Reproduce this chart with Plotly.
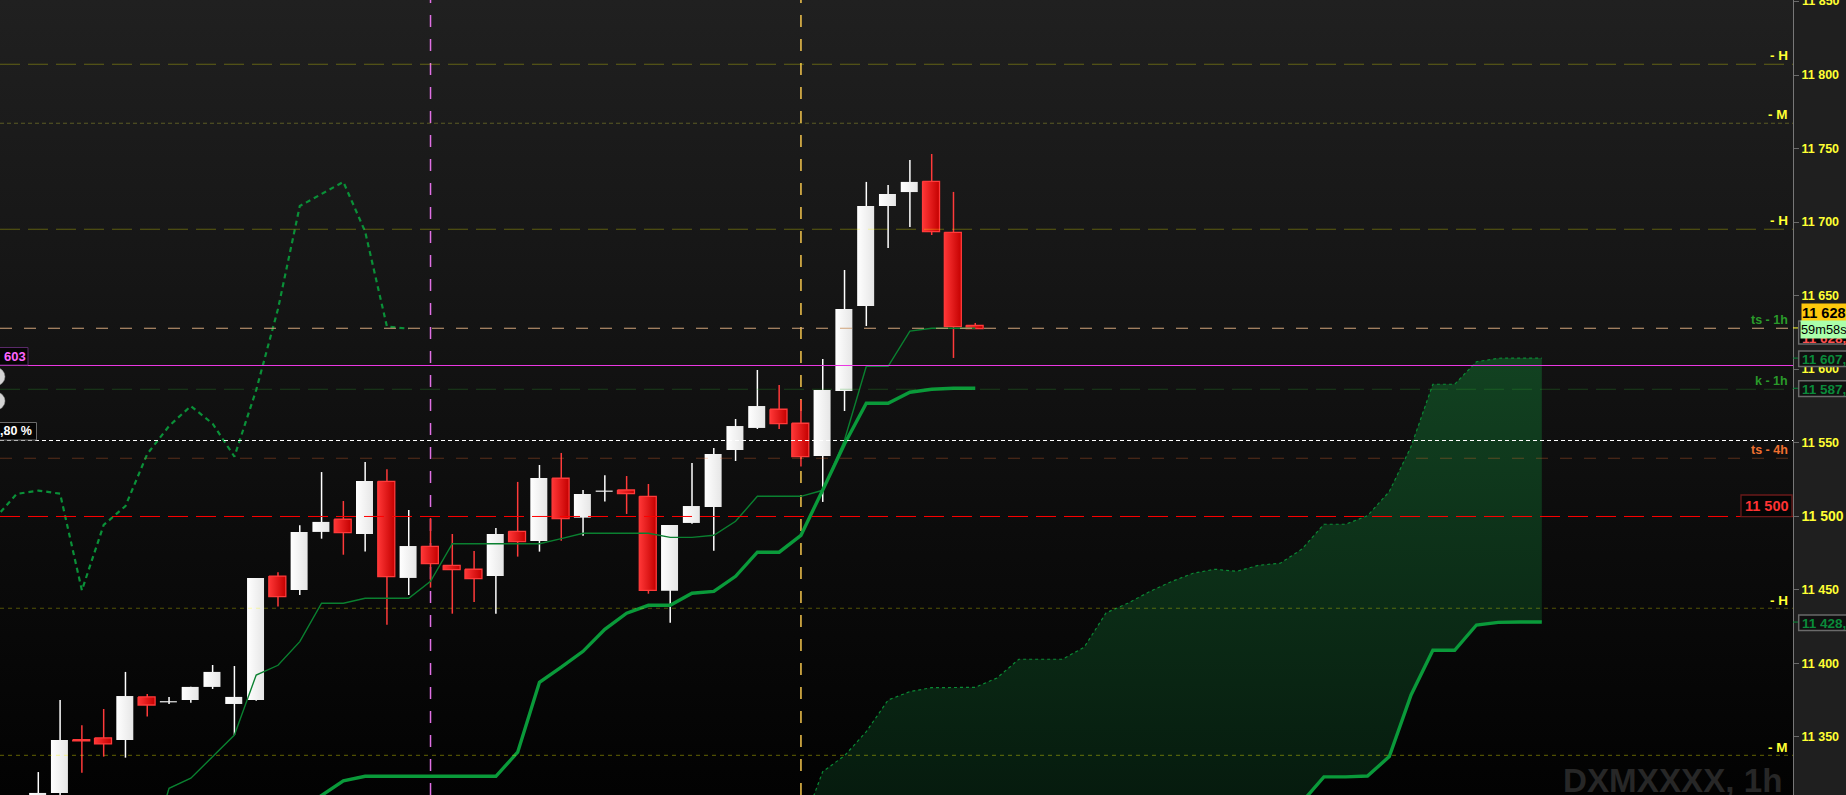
import plotly.graph_objects as go

# ---------- data (prices) ----------
opens = [11308, 11311.8, 11348, 11349.2, 11347.8, 11377.1, 11373.4, 11375, 11383.9, 11372.3, 11375,
         11459.3, 11449.8, 11489.3, 11497.9, 11487.9, 11523.7, 11458, 11479.5, 11466.6, 11463.9, 11459.3,
         11489.7, 11483.1, 11525.8, 11499, 11516.6, 11517.8, 11513.5, 11449.3, 11495.4, 11506.3, 11545,
         11560, 11572.7, 11563.2, 11540.9, 11585.1, 11642.9, 11710.9, 11720.4, 11727.7, 11693, 11629.8]
highs = [11326, 11375, 11357.8, 11368.9, 11394.1, 11379.1, 11377, 11384, 11398.8, 11398.1, 11458,
         11461.9, 11493.8, 11530, 11510.3, 11536.9, 11531.9, 11504.2, 11498.8, 11487.9, 11476.3, 11492,
         11523.3, 11534.8, 11543, 11517.8, 11527.8, 11527.3, 11521.9, 11494, 11536.2, 11546.4, 11566.1,
         11599.4, 11589.2, 11579, 11606.9, 11667.4, 11727.3, 11725.2, 11742.2, 11746.3, 11720.5, 11631.4]
lows = [11300, 11305, 11325.6, 11336.5, 11335.8, 11363.7, 11372.3, 11373.2, 11382.5, 11351.2, 11374.5,
        11438.5, 11446.4, 11484.7, 11473.8, 11475.9, 11426.2, 11446.4, 11451.4, 11433.7, 11441.7, 11433.7,
        11472.5, 11475.9, 11483.3, 11486.7, 11509.9, 11501.5, 11447.3, 11427.6, 11494.9, 11476.5, 11537.5,
        11559.3, 11559.3, 11533.7, 11509.7, 11571.5, 11629.3, 11682.4, 11696.7, 11691.2, 11607.6, 11627.5]
closes = [11311.8, 11347.8, 11347.2, 11345.1, 11377.7, 11371.6, 11374.2, 11383.9, 11394.1, 11377.1, 11458,
          11445.3, 11489.3, 11496.1, 11488.8, 11523.9, 11458.9, 11479.7, 11467.7, 11463.6, 11457.5, 11487.9,
          11482.7, 11526, 11498.3, 11515.1, 11517.4, 11515.3, 11449.6, 11494, 11506.9, 11542.3, 11561.3,
          11574.9, 11562.9, 11540.5, 11585.8, 11640.9, 11710.9, 11719.1, 11727.3, 11693.5, 11628.9, 11627.5]

tenkan_start = 5
tenkan = [11265, 11315, 11321.8, 11336.5, 11351.2, 11392, 11398.6, 11414.7, 11440.8, 11440.8, 11444.2,
          11444.2, 11444.2, 11455.7, 11481.3, 11481.3, 11481.3, 11481.3, 11481.3, 11484.7, 11488.4, 11488.4,
          11488.4, 11488.4, 11485.6, 11485.6, 11487, 11496.5, 11513.5, 11513.5, 11513.5, 11517.6, 11551.8,
          11601.9, 11601.9, 11625.9, 11627.8, 11627.8, 11627.8]
kijun_start = 12
kijun = [11300.2, 11310.4, 11320, 11323.1, 11323.1, 11323.1, 11323.1, 11323.1, 11323.1, 11323.1, 11339.5,
         11387, 11397.3, 11408.1, 11423.1, 11434, 11439.4, 11439.4, 11447.6, 11448.9, 11459.1, 11475.5,
         11475.5, 11487, 11517.8, 11549.1, 11576.8, 11576.8, 11584.3, 11586.3, 11587, 11587]
chikou_start = -2
chikou = [11498.3, 11515.1, 11517.4, 11515.3, 11449.6, 11494, 11506.9, 11542.3, 11561.3, 11574.9, 11562.9,
          11540.5, 11585.8, 11640.9, 11710.9, 11719.1, 11727.3, 11693.5, 11628.9, 11627.5]
cloud_start = 35
senkou_a = [11286.6, 11326.3, 11337.1, 11353.5, 11375, 11380.7, 11383.4, 11383.4, 11383.6, 11390, 11402.7,
            11402.7, 11402.7, 11410.9, 11434.2, 11440.8, 11448.7, 11455.5, 11461.2, 11463.9, 11462.5, 11466.6,
            11468, 11477.7, 11494.5, 11494.5, 11500.3, 11516.7, 11547.3, 11589.7, 11589.7, 11605, 11607.4,
            11607.5, 11607.5]
senkou_b = [11290, 11290, 11290, 11290, 11290, 11290, 11290, 11290, 11290, 11290, 11290, 11290, 11290, 11290,
            11290, 11290, 11290, 11290, 11290, 11290, 11290, 11290, 11290, 11305.7, 11322.7, 11322.7, 11323.3,
            11336.5, 11378.4, 11408.8, 11408.8, 11426, 11427.8, 11428, 11428]

tick_values = [11350, 11400, 11450, 11500, 11550, 11600, 11650, 11700, 11750, 11800, 11850]
tick_labels = ["11 350", "11 400", "11 450", '<span style="font-size:14px">11 500</span>', "11 550", "11 600",
               "11 650", "11 700", "11 750", "11 800", "11 850"]

level_names = ["- H", "- M", "- H", "ts - 1h", "k - 1h", "ts - 4h", "- H", "- M"]
level_values = [11807.3, 11767.2, 11695.1, 11627.8, 11586.3, 11539.4, 11437.4, 11337.4]
level_colors = ["rgba(255,255,0,0.3)", "rgba(255,255,60,0.28)", "rgba(255,255,0,0.3)", "#cfa27a",
                "rgba(50,170,50,0.3)", "rgba(240,112,48,0.33)", "rgba(255,255,0,0.3)", "rgba(255,255,0,0.3)"]
level_dashes = ["20px,8px", "4px,3px", "20px,8px", "12px,12px", "20px,8px", "12px,12px", "4px,4px", "4px,4px"]
label_colors = ["#ffff33", "#ffff33", "#ffff33", "#2a9a2a", "#2a9a2a", "#f07030", "#ffff33", "#ffff33"]
magenta_level = 11602.46
white_level = 11551.46
red_level = 11499.8
marker_bars = [18, 35]

# ---------- frame ----------
W, H = 1846, 795
PLOT_R = 1793
X0, DX = 38.3, 21.79
x_range = [(0 - X0) / DX, (PLOT_R - X0) / DX]
y_range = [11310.4, 11851]
FONT = "Liberation Sans"


def px(x):
    return x / PLOT_R


def py(y):
    return 1 - y / H


fig = go.Figure()

# panel gradient
fig.add_trace(go.Scatter(
    x=[x_range[0], x_range[1], x_range[1], x_range[0], x_range[0]],
    y=[y_range[0], y_range[0], y_range[1], y_range[1], y_range[0]],
    mode="none", fill="toself",
    fillgradient=dict(type="vertical", start=y_range[1], stop=y_range[0],
                      colorscale=[[0, "#202020"], [0.5, "#111111"], [1, "#020202"]]),
))

# cloud
a_x = [cloud_start + k for k in range(len(senkou_a))]
fig.add_trace(go.Scatter(
    x=a_x + a_x[::-1], y=senkou_a + senkou_b[::-1],
    mode="none", fill="toself",
    fillgradient=dict(type="vertical", start=11607.5, stop=y_range[0],
                      colorscale=[[0, "#124221"], [1, "#061b0e"]]),
))

# session markers sit behind the candles
for b, col in zip(marker_bars, ["#e070e4", "#f6c64e"]):
    fig.add_trace(go.Scatter(x=[b, b], y=y_range, mode="lines",
                             line=dict(color=col, width=1.5, dash="12px,12px")))

# wicks
for up, color in [(True, "#ffffff"), (False, "#ff3a3a")]:
    wx, wy = [], []
    for i, (o, h, l, c) in enumerate(zip(opens, highs, lows, closes)):
        if (c >= o) == up:
            wx += [i, i, None]
            wy += [l, h, None]
    fig.add_trace(go.Scatter(x=wx, y=wy, mode="lines", line=dict(color=color, width=1.5)))

# bodies
half = 0.39
shift = 0.03
for i, (o, c) in enumerate(zip(opens, closes)):
    left, right = i - shift - half, i - shift + half
    up = c >= o
    scale = [[0, "#ffffff"], [1, "#e6e6e6"]] if up else [[0, "#ff3636"], [1, "#c40000"]]
    fig.add_trace(go.Scatter(
        x=[left, right, right, left, left], y=[o, o, c, c, o],
        mode="none" if up else "lines",
        line=None if up else dict(color="#ff3a3a", width=1.3),
        fill="toself",
        fillgradient=dict(type="horizontal", start=left, stop=right, colorscale=scale),
    ))

GREEN = "#0a9a3a"
fig.add_trace(go.Scatter(x=[tenkan_start + k for k in range(len(tenkan))], y=tenkan, mode="lines",
                         line=dict(color="#0a8030", width=1.4)))
fig.add_trace(go.Scatter(x=[kijun_start + k for k in range(len(kijun))], y=kijun, mode="lines",
                         line=dict(color=GREEN, width=3.4)))
fig.add_trace(go.Scatter(x=[chikou_start + k for k in range(len(chikou))], y=chikou, mode="lines",
                         line=dict(color="#0a9038", width=2.2, dash="5px,4px")))
fig.add_trace(go.Scatter(x=a_x, y=senkou_a, mode="lines", line=dict(color="#0a8a34", width=1.2, dash="3px,3px")))
fig.add_trace(go.Scatter(x=a_x[a_x.index(58):], y=senkou_b[a_x.index(58):], mode="lines",
                         line=dict(color=GREEN, width=3.4)))

# horizontal reference lines
shapes = []
for v, col, d in zip(level_values, level_colors, level_dashes):
    shapes.append(dict(type="line", xref="paper", x0=0, x1=1, y0=v, y1=v, layer="above",
                       line=dict(color=col, width=1.2, dash=d)))
shapes.append(dict(type="line", xref="paper", x0=0, x1=1, y0=magenta_level, y1=magenta_level, layer="above",
                   line=dict(color="#ea38e2", width=1)))
shapes.append(dict(type="line", xref="paper", x0=0, x1=1, y0=white_level, y1=white_level, layer="above",
                   line=dict(color="#ffffff", width=1, dash="4px,3px")))
shapes.append(dict(type="line", xref="paper", x0=0, x1=1, y0=red_level, y1=red_level, layer="above",
                   line=dict(color="#ff0000", width=1, dash="20px,8px")))


def box(x0, x1, y0, y1, fill, border, width=1.0):
    shapes.append(dict(type="rect", xref="paper", yref="paper", layer="above",
                       x0=px(x0), x1=px(x1), y0=py(y0), y1=py(y1),
                       fillcolor=fill, line=dict(color=border, width=width)))


# small right-axis marks
for v, col in [(11628, "#ffff33"), (11607.5, "#0a8a3a"), (11587, "#0a8a3a"), (11428, "#0a8a3a")]:
    shapes.append(dict(type="line", xref="paper", x0=1, x1=px(1799), y0=v, y1=v, layer="above",
                       line=dict(color=col, width=1)))

box(1798.7, 1860, 321, 344, "#050505", "#6a6a6a", 1.5)
box(1798.7, 1860, 351, 366.5, "#101010", "#6a6a6a", 1.5)
box(1798.7, 1860, 380.7, 396.5, "#101010", "#6a6a6a", 1.5)
box(1798.7, 1860, 615, 630.5, "#101010", "#6a6a6a", 1.5)
box(1741, 1792, 495, 516.7, "#050505", "#6a1a1a", 1.3)
box(-5, 28, 347.5, 365, "#050505", "#5a2a6a", 1.0)
box(-5, 36.5, 422.5, 440, "#050505", "#6a6a6a", 1.0)
for cy in (376.7, 401):
    shapes.append(dict(type="circle", xref="paper", yref="paper", layer="above",
                       x0=px(-13), x1=px(5), y0=py(cy - 9), y1=py(cy + 9),
                       fillcolor="#d4d4d4", line=dict(color="#8a8a8a", width=0.5)))


# texts
annotations = []


def txt(text, x, y, color, size, anchor="left", bold=True, **kw):
    annotations.append(dict(text=text, x=px(x), y=py(y), xref="paper", yref="paper", showarrow=False,
                            xanchor=anchor, yanchor="middle", borderpad=0,
                            font=dict(family=FONT, size=size, color=color, weight=700 if bold else 400), **kw))


label_y = [56, 115, 221, 319.5, 380.5, 449.5, 600, 747]
label_size = [13.5, 13.5, 13.5, 12.5, 12.5, 12.5, 13.5, 13.5]
for name, y, col, s in zip(level_names, label_y, label_colors, label_size):
    txt(name, 1788.5, y, col, s, anchor="right")

txt("11 850", 1800.5, 1, "#ffff33", 12.5)
txt("11 500", 1766.5, 506, "#ff3333", 14.5, anchor="center")
txt("603", 3, 356, "#ff66ff", 13)
txt(",80 %", -1, 431, "#ffffff", 12.5)
txt("DXMXXXX, 1h", 1783, 780, "#272727", 33.2, anchor="right")
txt("11 607,5", 1800.5, 359, "#0a8a3a", 13.5)
txt("11 587,0", 1800.5, 389, "#0a8a3a", 13.5)
txt("11 428,0", 1800.5, 623, "#0a8a3a", 13.5)
txt("11 628,0", 1800.5, 338, "#ff5050", 13.5)
txt("11 628,", 1800.5, 312.5, "#000000", 14.5, bgcolor="#fdc80c", width=62, height=17, align="left")
txt("59m58s", 1800, 329.5, "#000000", 12.8, bold=False, bgcolor="#aaffaa", width=62, height=17, align="left")

fig.update_layout(
    width=W, height=H, autosize=False,
    margin=dict(l=0, r=W - PLOT_R, t=0, b=0),
    paper_bgcolor="#1f1f1f", plot_bgcolor="#101010",
    showlegend=False, hovermode=False,
    shapes=shapes, annotations=annotations,
    xaxis=dict(range=x_range, visible=False, fixedrange=True),
    yaxis=dict(range=y_range, side="right", tickmode="array", tickvals=tick_values, ticktext=tick_labels,
               ticks="outside", ticklen=5, tickcolor="#6a6a6a", tickwidth=1, showgrid=False, zeroline=False,
               showline=True, linecolor="#777777", linewidth=1, fixedrange=True,
               tickfont=dict(family=FONT, size=12.5, color="#ffff33", weight=700)),
)

fig.write_html("out.html", config=dict(displayModeBar=False),
               post_script="document.body.style.margin='0';document.body.style.overflow='hidden';"
                           "document.body.style.background='#1f1f1f';")
